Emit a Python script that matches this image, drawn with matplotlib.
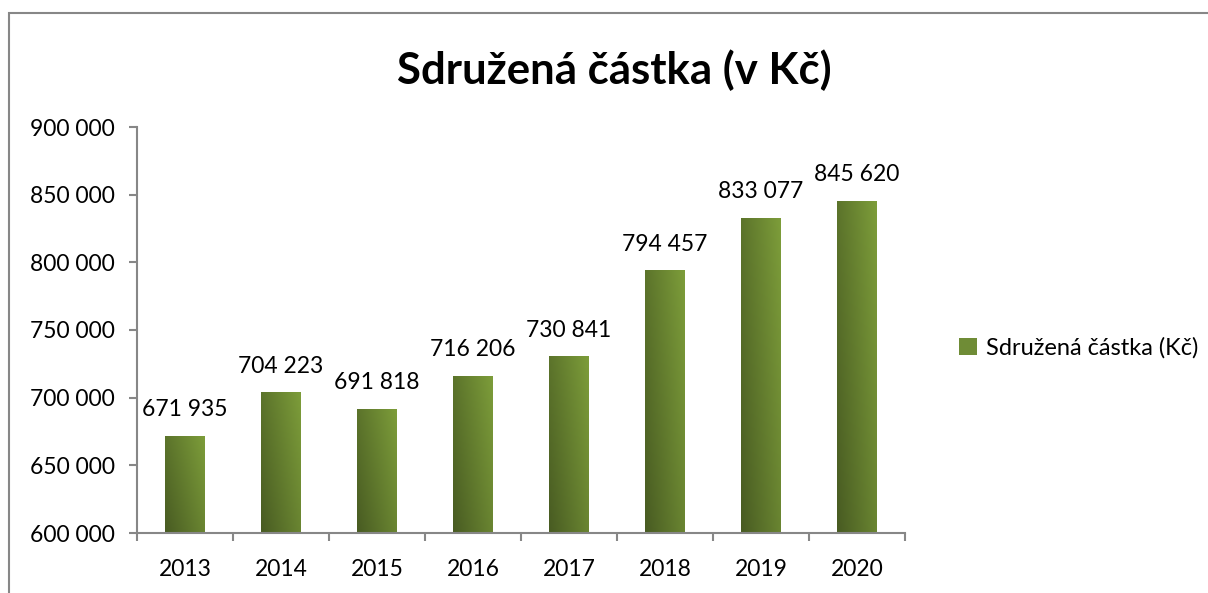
import matplotlib
matplotlib.use("Agg")
import matplotlib.pyplot as plt
import numpy as np
from matplotlib.patches import Rectangle
from matplotlib.colors import LinearSegmentedColormap
from matplotlib.ticker import FixedLocator, FuncFormatter

years = ["2013", "2014", "2015", "2016", "2017", "2018", "2019", "2020"]
values = [671935, 704223, 691818, 716206, 730841, 794457, 833077, 845620]
title = "Sdružená částka (v Kč)"
series_name = "Sdružená částka (Kč)"
yticks = [600000, 650000, 700000, 750000, 800000, 850000, 900000]

plt.rcParams['font.family'] = ['Lato', 'DejaVu Sans']

fig = plt.figure(figsize=(12.08, 5.93), dpi=100)
ax = fig.add_axes([137/1208, 60/593, (905-137)/1208, (533-127)/593])

dark = "#485b22"
light = "#7d9d3a"
cmap = LinearSegmentedColormap.from_list("g", [dark, light])

base = yticks[0]
x = np.arange(len(years))
bars = ax.bar(x, [v - base for v in values], bottom=base, width=0.41, color=light,
              label=series_name, zorder=2)

# gradient fill
grad = np.add.outer(np.linspace(0, 0.6, 100), np.linspace(0, 1, 100))
grad = grad / grad.max()
for b in bars:
    x0, y0 = b.get_x(), b.get_y()
    w, h = b.get_width(), b.get_height()
    im = ax.imshow(grad, cmap=cmap, extent=(x0, x0 + w, y0, y0 + h),
                   origin="lower", aspect="auto", zorder=2.5, interpolation="bilinear")
    im.set_clip_path(b)
ax.set_xlim(-0.5, len(years) - 0.5)
ax.set_ylim(600000, 900000)

fs = 16.5
for xi, v in zip(x, values):
    ax.annotate(f"{v:,}".replace(",", " "), (xi, v), xytext=(0, 11), textcoords="offset points",
                ha="center", va="bottom", fontsize=fs, color="#000000")

spine_c = "#878787"
for s in ["top", "right"]:
    ax.spines[s].set_visible(False)
for s in ["left", "bottom"]:
    ax.spines[s].set_color(spine_c)
    ax.spines[s].set_linewidth(1.5)
    ax.spines[s].set_zorder(3)

ax.yaxis.set_major_locator(FixedLocator(yticks))
ax.yaxis.set_major_formatter(FuncFormatter(lambda v, p: f"{int(v):,}".replace(",", " ")))
ax.tick_params(axis="y", length=6, width=1.5, color=spine_c, labelsize=fs, pad=10, direction="out")

ax.set_xticks(x)
ax.set_xticklabels(years)
ax.tick_params(axis="x", which="major", length=0, labelsize=fs, pad=19)
ax.set_xticks(np.arange(-0.5, len(years)), minor=True)
ax.tick_params(axis="x", which="minor", length=6, width=1.5, color=spine_c, direction="out")

fig.text(614/1208, 1 - 70/593, title, ha="center", va="center", fontsize=31.5, fontweight="bold")

leg = fig.legend(handles=[Rectangle((0, 0), 1, 1, facecolor="#6f8c36")], labels=[series_name],
                 loc="center left", bbox_to_anchor=(938/1208, 1 - 348/593), frameon=False,
                 fontsize=17, handlelength=0.75, handleheight=0.75, handletextpad=0.4)

border = Rectangle((9/1208, -0.1), 1.2, 1 - 13/593 + 0.1, transform=fig.transFigure,
                   fill=False, edgecolor=spine_c, linewidth=1.5, clip_on=False)
fig.patches.append(border)

fig.savefig("out.png", dpi=100)
